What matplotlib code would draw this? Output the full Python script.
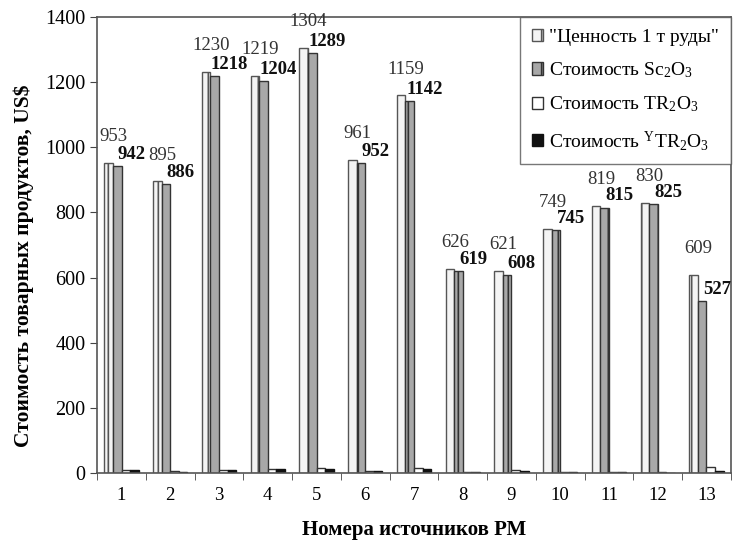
import matplotlib.pyplot as plt
import numpy as np

plt.rcParams['font.family'] = 'serif'
plt.rcParams['font.serif'] = ['Liberation Serif', 'DejaVu Serif']
plt.rcParams['mathtext.fontset'] = 'custom'
plt.rcParams['mathtext.rm'] = 'Liberation Serif'
plt.rcParams['mathtext.it'] = 'Liberation Serif'
plt.rcParams['hatch.linewidth'] = 1.2

sources = [str(i) for i in range(1, 14)]
ore_value = [953, 895, 1230, 1219, 1304, 961, 1159, 626, 621, 749, 819, 830, 609]
sc_cost = [942, 886, 1218, 1204, 1289, 952, 1142, 619, 608, 745, 815, 825, 527]
tr_cost = [8, 5, 8, 12, 14, 5, 15, 4, 8, 3, 2, 2, 17]
ytr_cost = [8, 4, 9, 13, 13, 5, 12, 3, 7, 2, 2, 1, 5]

labels = ['"Ценность 1 т руды"', r'Стоимость Sc$_2$O$_3$',
          r'Стоимость TR$_2$O$_3$', r'Стоимость $^{\mathrm{Y}}$TR$_2$O$_3$']

fig = plt.figure(figsize=(7.36, 5.48), dpi=100)
ax = fig.add_axes([0.132, 0.137, 0.861, 0.832])

x = np.arange(1, 14)
w = 0.175
ax.bar(x - 1.5 * w, ore_value, w, facecolor='#f4f4f4', edgecolor='#555555', hatch='|', linewidth=1.0, label=labels[0])
ax.bar(x - 0.5 * w, sc_cost, w, facecolor='#a8a8a8', edgecolor='#333333', hatch='|', linewidth=1.0, label=labels[1])
ax.bar(x + 0.5 * w, tr_cost, w, facecolor='white', edgecolor='#333333', linewidth=1.0, label=labels[2])
ax.bar(x + 1.5 * w, ytr_cost, w, facecolor='#111111', edgecolor='#111111', linewidth=1.0, label=labels[3])

for i in range(13):
    ax.text(x[i] - 1.5 * w + 0.1, ore_value[i] + 55, str(ore_value[i]),
            ha='center', va='bottom', fontsize=13.5, color='#333333')
    ax.text(x[i] - 0.5 * w + 0.3, sc_cost[i] + 10, str(sc_cost[i]),
            ha='center', va='bottom', fontsize=13.5, fontweight='bold', color='#111111')

ax.set_xlim(0.5, 13.5)
ax.set_ylim(0, 1400)
ax.set_yticks(range(0, 1401, 200))
ax.set_xticks(x)
ax.set_xticklabels(sources)
ax.set_xticks(np.arange(0.5, 13.6, 1), minor=True)
ax.tick_params(axis='x', which='major', length=0, labelsize=13.5, pad=10)
ax.tick_params(axis='x', which='minor', length=5, direction='out', color='#444444')
ax.tick_params(axis='y', length=5, direction='out', labelsize=14.5, color='#444444')

for s in ax.spines.values():
    s.set_color('#555555')
    s.set_linewidth(1.2)

ax.set_ylabel('Стоимость товарных продуктов, US$', fontsize=15.5, fontweight='bold')
ax.yaxis.set_label_coords(-0.1, 0.455)
ax.set_xlabel('Номера источников РМ', fontsize=15, fontweight='bold', labelpad=12)

leg = ax.legend(loc='upper right', fontsize=14, frameon=True, fancybox=False,
                edgecolor='#555555', handlelength=0.6, handleheight=0.6,
                handletextpad=0.3, labelspacing=0.75, borderaxespad=0.0,
                borderpad=0.6)
leg.get_frame().set_linewidth(1.0)

fig.savefig('out.png', dpi=100)
